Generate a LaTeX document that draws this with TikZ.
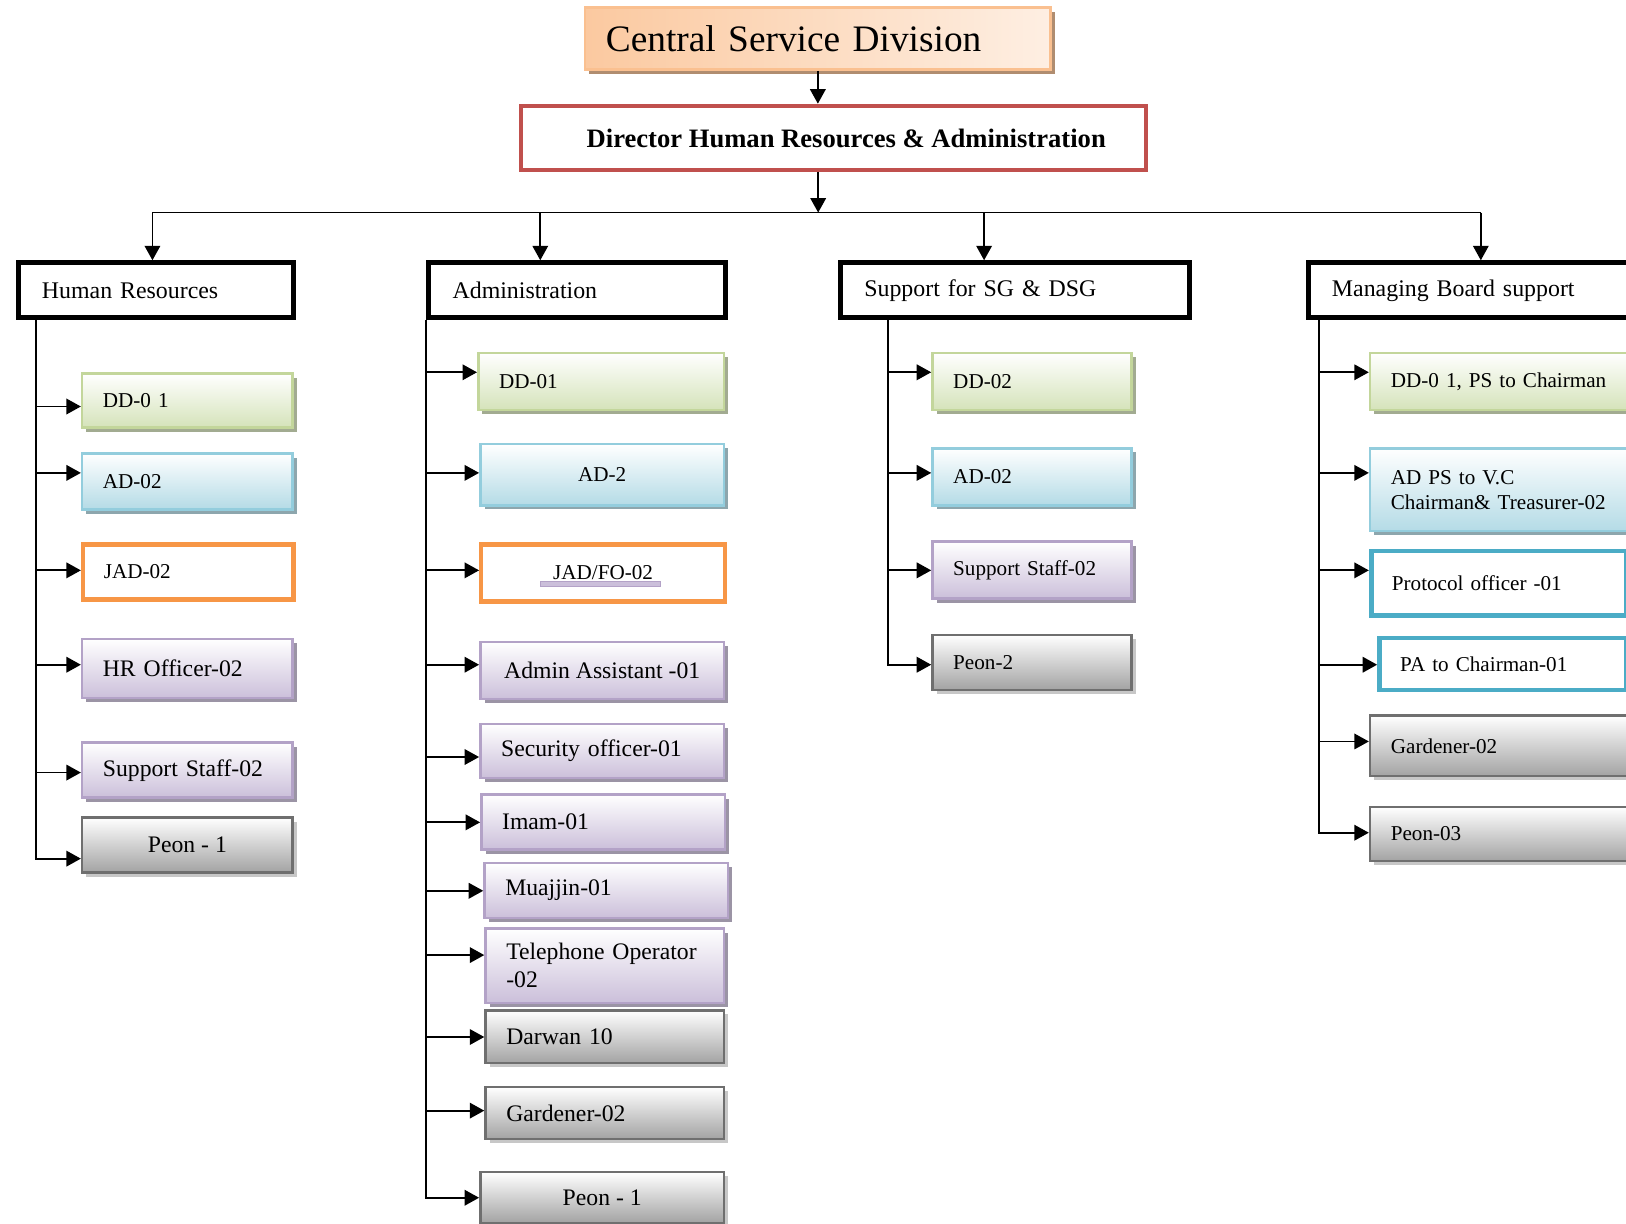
\documentclass[tikz,border=0pt]{standalone}
\usepackage{fontspec}
\setmainfont{Liberation Serif}
\usepackage{tikz}
\usetikzlibrary{arrows.meta,positioning,shadows}
\definecolor{peach}{HTML}{FBC9A0}
\definecolor{peachln}{HTML}{FAC090}
\definecolor{rouge}{HTML}{C0504D}
\definecolor{orng}{HTML}{F79646}
\definecolor{grnln}{HTML}{C3D69B}
\definecolor{grnbg}{HTML}{D5E3BA}
\definecolor{bluln}{HTML}{93CDDD}
\definecolor{blubg}{HTML}{B4DBE6}
\definecolor{purln}{HTML}{B3A2C7}
\definecolor{purbg}{HTML}{CBBFDA}
\definecolor{gryln}{HTML}{6F6F6F}
\definecolor{grybg}{HTML}{A3A3A3}
\definecolor{cyanln}{HTML}{4BACC6}

\begin{document}
\begin{tikzpicture}[x=0.02cm,y=-0.02cm,
  arr/.style={-{Triangle[length=0.28cm,width=0.3cm]},line width=1pt},
  sm/.style={font=\fontsize{11.6}{13.8}\selectfont},
  lg/.style={font=\fontsize{13}{15.2}\selectfont},
  lft/.style={align=left,text width=\tw cm},
  ctr/.style={align=center},
  post/.style={anchor=north west,inner xsep=0.4cm,inner ysep=0pt},
  grn/.style={draw=grnln,line width=1.4pt,top color=white,bottom color=grnbg,
    drop shadow={shadow xshift=0.08cm,shadow yshift=-0.08cm,fill=black!20!grnbg!80!gray,opacity=1}},
  blu/.style={draw=bluln,line width=1.4pt,top color=white,bottom color=blubg,
    drop shadow={shadow xshift=0.08cm,shadow yshift=-0.08cm,fill=black!20!blubg!80!gray,opacity=1}},
  pur/.style={draw=purln,line width=1.4pt,top color=white,bottom color=purbg,
    drop shadow={shadow xshift=0.08cm,shadow yshift=-0.08cm,fill=black!20!purbg!80!gray,opacity=1}},
  gry/.style={draw=gryln,line width=1.4pt,top color=white,bottom color=grybg,
    drop shadow={shadow xshift=0.08cm,shadow yshift=-0.08cm,fill=black!22,opacity=1}},
  org/.style={draw=orng,line width=2.4pt,fill=white},
  cyn/.style={draw=cyanln,line width=2.6pt,fill=white},
  hdr/.style={draw=black,line width=2.8pt,anchor=north west,inner xsep=0.46cm,
    minimum height=1.06cm,align=left,font=\fontsize{13.1}{15}\selectfont}]
  \path[use as bounding box,fill=white] (0,0) rectangle (1568,1180);

  % top of the chart
  \node[post,draw=peachln,line width=1.4pt,left color=peach,right color=peach!30!white,
    drop shadow={shadow xshift=0.08cm,shadow yshift=-0.08cm,fill=peach!70!black,opacity=1},
    text width=8.18cm,minimum height=1.2cm,align=left,font=\fontsize{20.5}{24}\selectfont]
    (csd) at (563,6) {Central Service Division};
  \node[anchor=north west,draw=rouge,line width=2.4pt,minimum width=12.06cm,minimum height=1.24cm,
    font=\fontsize{14.6}{17}\selectfont\bfseries] (dir) at (500,100) {\hspace{0.5cm}Director Human Resources \& Administration};
  \draw[arr] (csd.south) -- (csd.south |- dir.north);

  \coordinate (bus) at (789,205);
  \coordinate (b1) at (147,205);
  \coordinate (b2) at (521,205);
  \coordinate (b3) at (949,205);
  \coordinate (b4) at (1428,205);
  \draw[arr] (dir.south -| bus) -- (bus);
  \draw[line width=1pt] (b1) -- (b4);

  \node[hdr,text width=4.4cm] (hr) at (15,251) {Human Resources};
  \node[hdr,text width=4.8cm] (adm) at (411,251) {Administration};
  \node[hdr,text width=5.82cm] (sup) at (808,251) {Support for SG \& DSG};
  \node[hdr,text width=5.84cm] (mb) at (1259,251) {Managing Board support};
  \draw[arr] (b1) -- (b1 |- hr.north);
  \draw[arr] (b2) -- (b2 |- adm.north);
  \draw[arr] (b3) -- (b3 |- sup.north);
  \draw[arr] (b4) -- (b4 |- mb.north);

  % human resources
  \foreach \y/\h/\a/\s/\f/\al/\t [count=\i] in {
      359/52/392/grn/sm/lft/{DD-0 1},
      436/54/456/blu/sm/lft/{AD-02},
      523/53/550/org/sm/lft/{JAD-02},
      615/57/641/pur/lg/lft/{HR Officer-02},
      715/53/745/pur/lg/lft/{Support Staff-02},
      787/53/828/gry/lg/ctr/{Peon - 1}}{
    \pgfmathsetmacro\tw{(203-40)*0.02}
    \node[post,\s,\f,\al,minimum width=4.06cm,minimum height=\h*0.02cm] (hr\i) at (78,\y) {\t};
    \draw[arr] (hr.south -| 35,0) |- (hr\i.west |- 0,\a);
  }

  % administration
  \foreach \x/\y/\w/\h/\a/\s/\f/\al/\t [count=\i] in {
      460/339/237/55/359/grn/sm/lft/{DD-01},
      462/427/235/59/456/blu/sm/ctr/{AD-2},
      462/523/235/55/550/org/sm/ctr/{JAD/FO-02},
      462/618/235/55/641/pur/lg/ctr/{Admin Assistant -01},
      462/697/235/52/730/pur/lg/lft/{Security officer-01},
      463/765/235/53/793/pur/lg/lft/{Imam-01},
      466/831/235/53/859/pur/lg/lft/{Muajjin-01},
      467/894/230/72/921/pur/lg/lft/{Telephone Operator\\-02},
      467/973/230/51/1000/gry/lg/lft/{Darwan 10},
      467/1047/230/50/1071/gry/lg/lft/{Gardener-02},
      462/1129/235/49/1155/gry/lg/ctr/{Peon - 1}}{
    \pgfmathsetmacro\tw{(\w-40)*0.02}
    \node[post,\s,\f,\al,minimum width=\w*0.02cm,minimum height=\h*0.02cm] (adm\i) at (\x,\y) {\t};
    \draw[arr] (adm.south -| 411,0) |- (adm\i.west |- 0,\a);
  }
  \filldraw[fill=purbg,draw=purln,line width=0.4pt] (521,561) rectangle (637,565);

  % support for SG & DSG
  \foreach \y/\h/\a/\s/\t [count=\i] in {
      339/55/359/grn/{DD-02},
      431/55/456/blu/{AD-02},
      521/55/550/pur/{Support Staff-02},
      611/53/641/gry/{Peon-2}}{
    \pgfmathsetmacro\tw{(192-40)*0.02}
    \node[post,\s,sm,lft,minimum height=\h*0.02cm] (sup\i) at (898,\y) {\t};
    \draw[arr] (sup.south -| 856,0) |- (sup\i.west |- 0,\a);
  }

  % managing board support
  \foreach \x/\y/\w/\h/\a/\s/\t [count=\i] in {
      1320/339/262/55/359/grn/{DD-0 1, PS to Chairman},
      1320/431/262/80/456/blu/{AD PS to V.C\\Chairman\& Treasurer-02},
      1320/529/246/62/550/cyn/{Protocol officer -01},
      1328/613/238/50/641/cyn/{PA to Chairman-01},
      1320/689/262/58/715/gry/{Gardener-02},
      1320/777/262/52/803/gry/{Peon-03}}{
    \pgfmathsetmacro\tw{(\w-40)*0.02}
    \node[post,\s,sm,lft,minimum height=\h*0.02cm] (mb\i) at (\x,\y) {\t};
    \draw[arr] (mb.south -| 1272,0) |- (mb\i.west |- 0,\a);
  }
\end{tikzpicture}
\end{document}
